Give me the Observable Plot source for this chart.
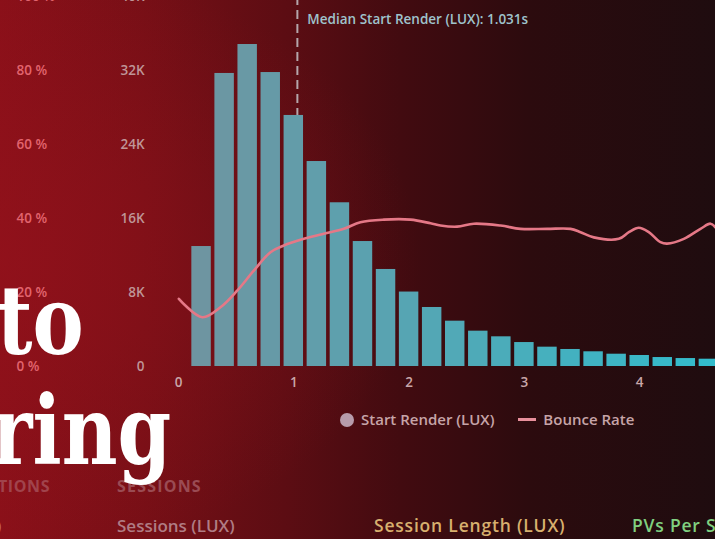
<!DOCTYPE html>
<html><head><meta charset="utf-8">
<script src="https://cdn.jsdelivr.net/npm/d3@7"></script>
<script src="https://cdn.jsdelivr.net/npm/@observablehq/plot@0.6"></script>
<style>
html,body{margin:0;padding:0;width:715px;height:539px;overflow:hidden;}
body{position:relative;font-family:"Open Sans",sans-serif;
  background:
    radial-gradient(ellipse 420px 300px at 0px 260px, rgba(150,18,28,0.55), rgba(150,18,28,0) 100%),
    linear-gradient(90deg, #8a1019 0%, #770f16 20%, #5c0d13 40%, #420b10 56%, #2c0b0e 74%, #1f0c0f 100%);}
#chart{position:absolute;left:0;top:-30px;width:760px;}
#chart svg{max-width:none !important;width:760px;height:436px;}
.big{position:absolute;color:#fff;font-family:"DejaVu Serif",serif;font-weight:bold;line-height:1;white-space:nowrap;transform-origin:left top;transform:scaleX(0.8);}
.t{position:absolute;white-space:nowrap;font-family:"Open Sans",sans-serif;font-weight:600;line-height:1;}
</style></head>
<body>
<div id="chart"></div>
<div id="legend" class="t" style="left:340px;top:412px;font-size:15px;color:#c6a4a8;">
  <span style="display:inline-block;width:14px;height:14px;border-radius:50%;background:#b79cab;vertical-align:-2px;margin-right:7px;"></span><span id="lg1"></span>
  <span style="display:inline-block;width:18px;height:3px;background:#e8909c;vertical-align:4px;margin:0 7px 0 20px;"></span><span id="lg2"></span>
</div>
<div class="t" id="b1" style="left:-2px;top:478px;font-size:16px;font-weight:700;letter-spacing:0.6px;color:#a0434c;"></div>
<div class="t" id="b2" style="left:117px;top:478px;font-size:16px;font-weight:700;letter-spacing:1.2px;color:#9a4b53;"></div>
<div class="t" id="b3" style="left:-4px;top:517px;font-size:17px;color:#c26a76;"></div>
<div class="t" id="b4" style="left:117px;top:517px;font-size:17px;color:#b07c84;"></div>
<div class="t" id="b5" style="left:374px;top:517px;font-size:17.5px;letter-spacing:0.8px;color:#d8b06e;"></div>
<div class="t" id="b6" style="left:632px;top:517px;font-size:17.5px;letter-spacing:0.8px;color:#80d080;"></div>
<div class="big" id="w1" style="left:-3px;top:273px;font-size:96px;"></div>
<div class="big" id="w2" style="left:-8px;top:383px;font-size:96px;"></div>
<script>
// ---- data ----
const binCenters = [0.2,0.4,0.6,0.8,1.0,1.2,1.4,1.6,1.8,2.0,2.2,2.4,2.6,2.8,3.0,3.2,3.4,3.6,3.8,4.0,4.2,4.4,4.6];
const sessions   = [12970,31680,34810,31780,27140,22160,17700,13510,10490,8050,6380,4900,3820,3210,2590,2090,1840,1590,1330,1190,970,860,790];
const bounceX    = [0.003,0.206,0.364,0.509,0.653,0.798,0.913,1.087,1.26,1.434,1.578,1.781,2.012,2.186,2.272,2.417,2.561,2.793,2.966,3.198,3.4,3.487,3.602,3.819,3.906,3.992,4.079,4.18,4.238,4.383,4.527,4.614,4.657];
const bounceRate = [18.3,13.3,16.0,20.5,25.9,30.9,32.7,34.5,35.9,37.2,39.0,39.7,39.7,38.7,38.1,37.8,38.6,38.1,37.2,37.2,37.2,36.3,34.9,34.5,36.3,37.5,36.3,33.6,33.2,34.5,37.2,38.6,37.6];
const yTicks = [0,8000,16000,24000,32000,40000];
const xTicks = [0,1,2,3,4];
const medianStartRender = 1.031;
const medianLabel = "Median Start Render (LUX): 1.031s";
const legendLabels = ["Start Render (LUX)","Bounce Rate"];
const bottomLabels = ["TIONS","SESSIONS",")","Sessions (LUX)","Session Length (LUX)","PVs Per S"];
const bigWords = ["to","ring"];

// ---- tables ----
const bars = binCenters.map((x,i)=>({x, v: sessions[i]}));
const bounce = bounceX.map((x,i)=>({x, r: bounceRate[i]}));

const plot = Plot.plot({
  width: 760, height: 436,
  marginLeft: 178, marginRight: 0, marginTop: 26, marginBottom: 40,
  style: {background:"transparent", fontFamily:"Open Sans", fontSize:"13.5px", fontWeight:600, overflow:"visible", maxWidth:"none"},
  x: {domain:[0, 582/115.3], axis:null},
  y: {domain:[0, 40000], axis:null},
  color: {type:"linear", domain:[0.2, 4.6], range:["#6e95a1","#33bccc"]},
  marks: [
    Plot.ruleX([medianStartRender], {stroke:"#b5a7ab", strokeWidth:2, strokeDasharray:"9,5"}),
    Plot.text([medianLabel], {x: medianStartRender, frameAnchor:"top", dy:18, dx:10, textAnchor:"start", fill:"#9fc3cc", fontSize:13.5}),
    Plot.rectY(bars, {x1: d=>d.x-0.1, x2: d=>d.x+0.1, y:"v", fill:"x", insetLeft:1.8, insetRight:1.8}),
    Plot.line(bounce, {x:"x", y: d=>d.r*400, stroke:"#e57887", strokeWidth:2.6, curve:"catmull-rom"}),
    Plot.axisY(yTicks, {tickSize:0, tickPadding:34, label:null, tickFormat: d => d===0 ? "0" : (d/1000)+"K", fill:"#bf9597"}),
    Plot.axisY(yTicks, {tickSize:0, tickPadding:0, dx:-162, textAnchor:"start", label:null, tickFormat: d => (d/400)+" %", fill:"#e2646e"}),
    Plot.axisX(xTicks, {tickSize:0, tickPadding:11, label:null, tickFormat: d => String(d), fill:"#c9a6a8"})
  ]
});
document.getElementById("chart").appendChild(plot);
document.getElementById("lg1").textContent = legendLabels[0];
document.getElementById("lg2").textContent = legendLabels[1];
["b1","b2","b3","b4","b5","b6"].forEach((id,i)=>document.getElementById(id).textContent = bottomLabels[i]);
document.getElementById("w1").textContent = bigWords[0];
document.getElementById("w2").textContent = bigWords[1];
</script>
</body></html>
